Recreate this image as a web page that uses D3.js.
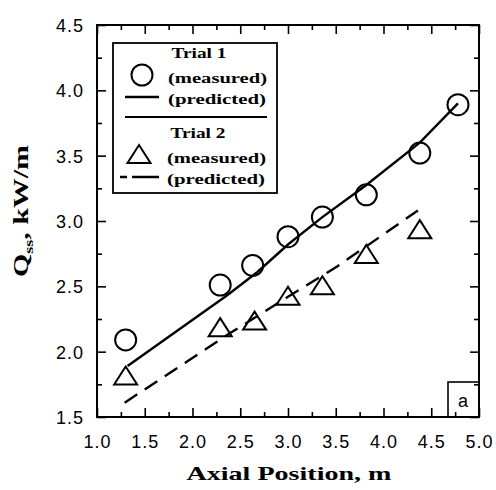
<!DOCTYPE html>
<html><head><meta charset="utf-8">
<script src="https://cdn.jsdelivr.net/npm/d3@7"></script>
<style>body{margin:0;background:#fff}svg{display:block}</style>
</head><body>
<svg id="c" width="496" height="490"></svg>
<script>
const xTicks = [1.0,1.5,2.0,2.5,3.0,3.5,4.0,4.5,5.0];
const yTicks = [1.5,2.0,2.5,3.0,3.5,4.0,4.5];
const trial1X = [1.3, 2.29, 2.63, 3.0, 3.36, 3.82, 4.38, 4.78];
const trial1Y = [2.09, 2.51, 2.66, 2.88, 3.03, 3.2, 3.52, 3.89];
const trial2X = [1.3, 2.29, 2.65, 3.0, 3.36, 3.82, 4.38];
const trial2Y = [1.81, 2.18, 2.23, 2.42, 2.5, 2.74, 2.93];
const pred1X = [1.32, 2.36, 2.68, 3.0, 3.36, 3.81, 4.38, 4.78];
const pred1Y = [1.89, 2.43, 2.61, 2.82, 3.03, 3.27, 3.6, 3.9];
const pred2X = [1.29, 2.39, 3.0, 3.51, 4.36];
const pred2Y = [1.61, 2.14, 2.42, 2.65, 3.08];

const svg = d3.select("#c");
const L=97,R=479,T=25,B=417;
const x = d3.scaleLinear().domain([1,5]).range([L,R]);
const y = d3.scaleLinear().domain([1.5,4.5]).range([B,T]);
const tickFont = "'Liberation Sans', Arial, sans-serif";
const serif = "'Liberation Serif', 'Times New Roman', serif";

const minorX = d3.range(1.25,5,0.5), minorY = d3.range(1.75,4.5,0.5);
function axisG(axisFn, scale, tv, len, tf){
  const g = svg.append("g").attr("transform",tf)
    .call(axisFn(scale).tickValues(tv).tickSize(len).tickFormat(""));
  g.select(".domain").remove();
  g.selectAll("line").attr("stroke","#000").attr("stroke-width",1.6);
  return g;
}
axisG(d3.axisTop, x, xTicks, 9, `translate(0,${B})`);
axisG(d3.axisTop, x, minorX, 5, `translate(0,${B})`);
axisG(d3.axisBottom, x, xTicks, 9, `translate(0,${T})`);
axisG(d3.axisBottom, x, minorX, 5, `translate(0,${T})`);
axisG(d3.axisRight, y, yTicks, 9, `translate(${L},0)`);
axisG(d3.axisRight, y, minorY, 5, `translate(${L},0)`);
axisG(d3.axisLeft, y, yTicks, 9, `translate(${R},0)`);
axisG(d3.axisLeft, y, minorY, 5, `translate(${R},0)`);

svg.append("rect").attr("x",L).attr("y",T).attr("width",R-L).attr("height",B-T)
  .attr("fill","none").attr("stroke","#000").attr("stroke-width",2);

const xl = svg.append("g").attr("transform",`translate(0,${B})`)
  .call(d3.axisBottom(x).tickValues(xTicks).tickSize(0).tickPadding(0).tickFormat(d3.format(".1f")));
xl.select(".domain").remove();
xl.selectAll("text").attr("y",31).attr("dy",null).attr("font-size",18)
  .attr("font-family",tickFont).attr("letter-spacing",1).attr("fill","#000");
const yl = svg.append("g").attr("transform",`translate(${L},0)`)
  .call(d3.axisLeft(y).tickValues(yTicks).tickSize(0).tickPadding(0).tickFormat(d3.format(".1f")));
yl.select(".domain").remove();
yl.selectAll("text").attr("x",-13).attr("dy","0.36em").attr("font-size",18)
  .attr("font-family",tickFont).attr("letter-spacing",1).attr("fill","#000");

// axis titles
svg.append("text").attr("x",289).attr("y",480).attr("text-anchor","middle")
  .attr("font-family",serif).attr("font-size",19).attr("font-weight","bold")
  .attr("textLength",205).attr("lengthAdjust","spacingAndGlyphs").text("Axial Position, m");
const yt = svg.append("text").attr("transform","translate(28,211) rotate(-90)")
  .attr("text-anchor","middle").attr("font-family",serif).attr("font-size",20).attr("font-weight","bold")
  .attr("textLength",132).attr("lengthAdjust","spacingAndGlyphs");
yt.append("tspan").text("Q");
yt.append("tspan").attr("font-size",12).attr("dy",5).text("ss");
yt.append("tspan").attr("dy",-5).text(", kW/m");

// predicted lines
const line = d3.line().x(d=>x(d[0])).y(d=>y(d[1]));
svg.append("path").datum(d3.zip(pred1X,pred1Y)).attr("d",line)
  .attr("fill","none").attr("stroke","#000").attr("stroke-width",2.4);
svg.append("path").datum(d3.zip(pred2X,pred2Y)).attr("d",line)
  .attr("fill","none").attr("stroke","#000").attr("stroke-width",2.4).attr("stroke-dasharray","15,9");

// markers
svg.append("g").selectAll("circle").data(d3.zip(trial1X,trial1Y)).join("circle")
  .attr("cx",d=>x(d[0])).attr("cy",d=>y(d[1])).attr("r",10.5)
  .attr("fill","none").attr("stroke","#000").attr("stroke-width",2);
const tri = (cx,cy)=>`M${cx},${cy-10}L${cx+11.5},${cy+8}L${cx-11.5},${cy+8}Z`;
svg.append("g").selectAll("path").data(d3.zip(trial2X,trial2Y)).join("path")
  .attr("d",d=>tri(x(d[0]),y(d[1])))
  .attr("fill","none").attr("stroke","#000").attr("stroke-width",2);

// legend
const lg = svg.append("g");
lg.append("rect").attr("x",113).attr("y",43).attr("width",164).attr("height",150)
  .attr("fill","#fff").attr("stroke","#000").attr("stroke-width",1.8);
lg.append("line").attr("x1",125).attr("x2",267).attr("y1",117).attr("y2",117).attr("stroke","#000").attr("stroke-width",2);
const lt = (tx,ty,s,w,anchor)=>lg.append("text").attr("x",tx).attr("y",ty).attr("font-family",serif)
  .attr("font-weight","bold").attr("font-size",15).attr("text-anchor",anchor||"start")
  .attr("textLength",w).attr("lengthAdjust","spacingAndGlyphs").text(s);
lt(199,58,"Trial 1",55,"middle");
lt(168,83,"(measured)",99);
lt(168,104,"(predicted)",98);
lt(198,138,"Trial 2",55,"middle");
lt(167,163,"(measured)",99);
lt(167,184,"(predicted)",98);
lg.append("circle").attr("cx",142).attr("cy",75).attr("r",10.5).attr("fill","none").attr("stroke","#000").attr("stroke-width",2);
lg.append("line").attr("x1",125).attr("x2",159).attr("y1",97).attr("y2",97).attr("stroke","#000").attr("stroke-width",2.4);
lg.append("path").attr("d",tri(139,155)).attr("fill","none").attr("stroke","#000").attr("stroke-width",2);
lg.append("line").attr("x1",120).attr("x2",159).attr("y1",177).attr("y2",177).attr("stroke","#000").attr("stroke-width",2.4)
  .attr("stroke-dasharray","7,5,30");

// panel label
svg.append("rect").attr("x",448).attr("y",382).attr("width",R-448).attr("height",B-382)
  .attr("fill","none").attr("stroke","#000").attr("stroke-width",1.6);
svg.append("text").attr("x",463).attr("y",407).attr("text-anchor","middle")
  .attr("font-family",tickFont).attr("font-size",18).text("a");
</script>
</body></html>
